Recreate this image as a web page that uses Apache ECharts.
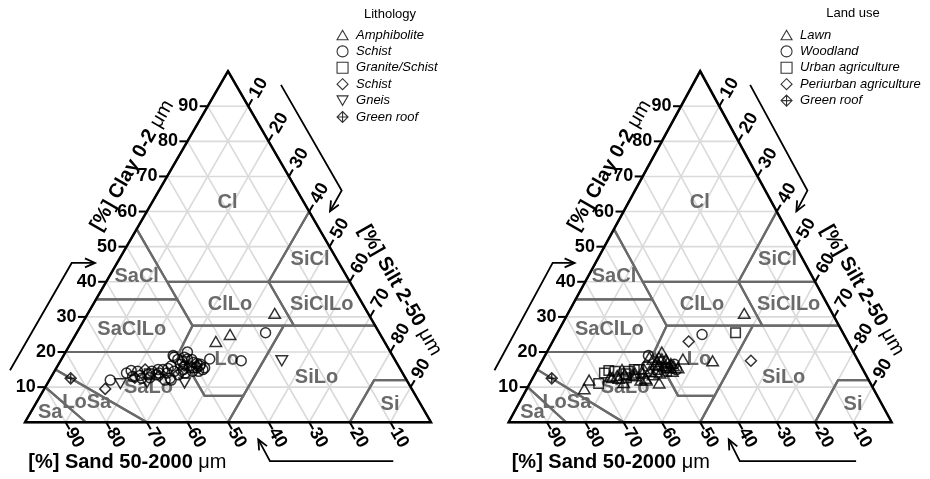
<!DOCTYPE html>
<html><head><meta charset="utf-8">
<script src="https://cdn.jsdelivr.net/npm/echarts@6/dist/echarts.min.js"></script>
<style>html,body{margin:0;padding:0;background:#fff}#c{width:930px;height:479px}</style>
</head><body><div id="c"></div>
<script>
// ================= DATA =================
// soil samples: texture fractions in percent
const sand = [23,37,41.5,28,45.5,38,28,82.5,75.5,73,71,50,54,68,67,65,65,63,61.5,61,60,58.5,58,58,56,56,55.5,53.5,53.5,53.5,51,51.5,51.5,50,50,50,48.5,48,54,51.5,59.5,58,62.5,51.2,66.6,60.3,54.3,49.7,64.4,55.1,66.5,65,62.9,59.7,57.1,52.6,50,49.3,48.7,52.7,53.4,62.9,48.9];
const silt = [46,38,35.5,46.5,36.5,44.5,54.5,5,15,15,18,30,27,18,20,20.5,22.5,23.5,24,25.5,26,26.5,28,29.5,28,29.5,31,30,31.5,32.5,31,32.5,34,33,34.5,35.5,35,36.5,27.5,30,28.5,30,23.7,33.3,20.7,26.5,31.3,34.2,24.4,33.7,18.8,21.7,22.1,25.3,27.6,30.1,32.1,34,36.3,31.1,28.7,24.4,35];
const clay = [31,25,23,25.5,18,17.5,17.5,12.5,9.5,12,11,20,19,14,13,14.5,12.5,13.5,14.5,13.5,14,15,14,12.5,16,14.5,13.5,16.5,15,14,18,16,14.5,17,15.5,14.5,16.5,15.5,18.5,18.5,12,12,13.8,15.5,12.7,13.2,14.4,16.1,11.3,11.2,14.7,13.3,15,15,15.3,17.3,17.9,16.7,15,16.2,17.9,12.7,16.1];
// category index of each sample (into lithologyCats / landUseCats)
const lithology = [0,0,0,1,1,1,4,5,3,1,4,1,1,1,1,1,1,1,1,1,1,1,1,1,1,1,1,1,1,1,1,1,1,1,1,1,1,1,1,1,1,1,2,2,3,3,3,3,4,4,1,1,3,1,1,1,1,1,1,3,1,1,1];
const landUse   = [0,1,3,2,0,0,3,4,0,0,2,0,1,2,0,2,0,0,2,0,0,2,0,0,1,0,0,0,2,0,0,0,2,0,0,0,1,0,0,0,0,0,2,2,0,0,0,3,0,0,2,0,0,2,0,0,0,0,1,0,0,2,0];
const lithologyCats = ['Amphibolite','Schist','Granite/Schist','Schist ','Gneis','Green roof'];
const landUseCats = ['Lawn','Woodland','Urban agriculture','Periurban agriculture','Green roof '];
const legendTitles = ['Lithology','Land use'];
const tickValues = [10,20,30,40,50,60,70,80,90];
const axisTitleClay = '[%] Clay 0-2 ';
const axisTitleSilt = '[%] Silt 2-50 ';
const axisTitleSand = '[%] Sand 50-2000 ';
const unitText = 'μm';
// USDA texture classes, vertices as [sand, silt, clay]
const classNames = ['Cl','SiCl','SaCl','SaClLo','ClLo','SiClLo','Lo','SiLo','Si','SaLo','LoSa','Sa'];
const classPolygons = [
  [[0,0,100],[0,40,60],[20,40,40],[45,15,40],[45,0,55]],
  [[0,40,60],[0,60,40],[20,40,40]],
  [[45,0,55],[65,0,35],[45,20,35],[45,15,40]],
  [[65,0,35],[80,0,20],[52,28,20],[45,27.5,27.5],[45,20,35]],
  [[45,20,35],[45,27.5,27.5],[20,52.5,27.5],[20,40,40],[45,15,40]],
  [[20,40,40],[0,60,40],[0,72.5,27.5],[20,52.5,27.5]],
  [[45,27.5,27.5],[52,28,20],[52,40.5,7.5],[42.5,50,7.5],[22.5,50,27.5]],
  [[22.5,50,27.5],[42.5,50,7.5],[50,50,0],[20,80,0],[8,80,12],[0,88,12],[0,72.5,27.5]],
  [[20,80,0],[0,100,0],[0,88,12],[8,80,12]],
  [[80,0,20],[85,0,15],[70,30,0],[50,50,0],[42.5,50,7.5],[52,40.5,7.5],[52,28,20]],
  [[85,0,15],[90,0,10],[85,15,0],[70,30,0]],
  [[90,0,10],[100,0,0],[85,15,0]]
];

// ================= LAYOUT =================
const K = 4.06;                       // px per percent
const ORIGINS = [[25,422.8],[510,422.8]];
const FONT = '"Liberation Sans", Arial, Helvetica, sans-serif';
// class label anchor (cartesian units of the triangle)
const classLabelXY = [[49.9,54.1],[70.2,40.1],[27.5,36.0],[26.3,22.9],[50.5,29.0],[73.1,29.0],[49.7,15.5],[71.8,11.0],[89.9,4.4],[30.4,8.5],[15.2,4.8],[6.2,2.5]];
const arrowPaths = [
  [[-3.69,12.83],[11.5,39.29],[17.24,39.29]],
  [[63.05,83.2],[78.0,57.14],[75.12,52.0]],
  [[90.71,-9.58],[60.34,-9.58],[57.46,-4.24]]
];
const titleClayXY = [26.4,63.3], titleSiltXY = [92.4,32.5], titleSandXY = [0.8,-9.9];

const S3 = Math.sqrt(3)/2;
function tern(sa, si, cl){ return [si + cl/2, cl*S3]; }

function seg(a,b,stroke,w){ return {type:'line', shape:{x1:a[0],y1:a[1],x2:b[0],y2:b[1]}, style:{stroke:stroke, lineWidth:w}}; }
function txt(x,y,text,opt){
  return {type:'text', x:x, y:y, rotation:opt.rot||0, style:Object.assign({text:text, fill:opt.fill||'#000', align:opt.align||'center', verticalAlign:'middle', font:opt.font}, opt.extra||{})};
}

function frameRender(params, api){
  const C = (s,si,c)=>api.coord(tern(s,si,c));
  const P = xy=>api.coord(xy);
  const ch = [];
  // light grid
  tickValues.forEach(v=>{
    ch.push(seg(C(100-v,0,v),C(0,100-v,v),'#dadada',1.6));
    ch.push(seg(C(v,100-v,0),C(v,0,100-v),'#dadada',1.6));
    ch.push(seg(C(100-v,v,0),C(0,v,100-v),'#dadada',1.6));
  });
  // class boundaries
  classPolygons.forEach(poly=>{
    ch.push({type:'polygon', shape:{points:poly.map(v=>C(v[0],v[1],v[2]))}, style:{fill:null, stroke:'#6a6a6a', lineWidth:2.2, lineJoin:'round'}});
  });
  // class labels
  classNames.forEach((n,i)=>{
    const p = P(classLabelXY[i]);
    ch.push(txt(p[0],p[1],n,{fill:'#6a6a6a', font:'bold 20px '+FONT}));
  });
  // triangle outline
  ch.push({type:'polygon', shape:{points:[C(100,0,0),C(0,100,0),C(0,0,100)]}, style:{fill:null, stroke:'#000', lineWidth:2.4, lineJoin:'miter'}});
  // ticks & tick labels
  const tl = 8;
  const c60 = 0.5, s60 = S3;
  tickValues.forEach(v=>{
    let e = C(100-v,0,v);
    ch.push(seg(e,[e[0]-tl,e[1]],'#000',2));
    ch.push(txt(e[0]-9.5,e[1],String(v),{align:'right', font:'bold 18px '+FONT}));
    e = C(0,v,100-v);
    ch.push(seg(e,[e[0]+tl*c60,e[1]-tl*s60],'#000',2));
    ch.push(txt(e[0]+21*c60,e[1]-21*s60,String(v),{rot:Math.PI/3, font:'bold 18px '+FONT}));
    e = C(v,100-v,0);
    ch.push(seg(e,[e[0]+tl*c60,e[1]+tl*s60],'#000',2));
    ch.push(txt(e[0]+18*c60,e[1]+18*s60,String(v),{rot:-Math.PI/3, font:'bold 18px '+FONT}));
  });
  // axis titles
  const rich = {b:{font:'bold 20px '+FONT, fill:'#000'}, n:{font:'20px '+FONT, fill:'#000'}};
  let p = P(titleClayXY);
  ch.push({type:'text', x:p[0], y:p[1], rotation:Math.PI/3, style:{text:'{b|'+axisTitleClay+'}{n|'+unitText+'}', rich:rich, align:'center', verticalAlign:'middle'}});
  p = P(titleSiltXY);
  ch.push({type:'text', x:p[0], y:p[1], rotation:-Math.PI/3, style:{text:'{b|'+axisTitleSilt+'}{n|'+unitText+'}', rich:rich, align:'center', verticalAlign:'middle'}});
  p = P(titleSandXY);
  ch.push({type:'text', x:p[0], y:p[1], style:{text:'{b|'+axisTitleSand+'}{n|'+unitText+'}', rich:rich, align:'left', verticalAlign:'middle'}});
  // arrows
  arrowPaths.forEach(path=>{
    const pts = path.map(P);
    ch.push({type:'polyline', shape:{points:pts}, style:{stroke:'#000', lineWidth:1.8, fill:null}});
    const a = pts[pts.length-2], b = pts[pts.length-1];
    const ang = Math.atan2(b[1]-a[1], b[0]-a[0]), L = 11, h = 0.42;
    ch.push({type:'polyline', shape:{points:[[b[0]-L*Math.cos(ang-h), b[1]-L*Math.sin(ang-h)], b, [b[0]-L*Math.cos(ang+h), b[1]-L*Math.sin(ang+h)]]}, style:{stroke:'#000', lineWidth:1.8, fill:null}});
  });
  return {type:'group', children:ch};
}

const SYM_UP = 'path://M1,0L2,1.732L0,1.732Z';
const SYM_DOWN = 'path://M0,0L2,0L1,1.732Z';
const SYM_XDIA = 'path://M1,0L2,1L1,2L0,1Z M1,0L1,2 M0,1L2,1';
const lithSymbols = [SYM_UP,'circle','rect','diamond',SYM_DOWN,SYM_XDIA];
const landSymbols = [SYM_UP,'circle','rect','diamond',SYM_XDIA];
function symSize(s){ return s===SYM_UP||s===SYM_DOWN ? 11.5 : (s==='rect' ? 9.5 : (s==='circle' ? 10 : 11)); }

const grids = [], xAxes = [], yAxes = [], series = [];
ORIGINS.forEach((o,pi)=>{
  grids.push({left:o[0]-6*K, top:o[1]-104*K, width:116*K, height:118*K, containLabel:false});
  xAxes.push({type:'value', gridIndex:pi, min:-6, max:110, show:false});
  yAxes.push({type:'value', gridIndex:pi, min:-14, max:104, show:false});
  series.push({type:'custom', name:'frame'+pi, xAxisIndex:pi, yAxisIndex:pi, coordinateSystem:'cartesian2d', data:[[0,0]], renderItem:frameRender, silent:true, z:1, clip:false});
});
function addCats(pi, cats, assign, symbols){
  cats.forEach((name,ci)=>{
    const data = [];
    for (let i=0;i<sand.length;i++) if (assign[i]===ci) data.push(tern(sand[i],silt[i],clay[i]));
    series.push({type:'scatter', name:name, xAxisIndex:pi, yAxisIndex:pi, data:data, symbol:symbols[ci], symbolSize:symSize(symbols[ci]), symbolKeepAspect:true,
      itemStyle:{color:'rgba(255,255,255,0)', borderColor:'#000', borderWidth:1.5}, z:5, silent:true});
  });
}
addCats(0, lithologyCats, lithology, lithSymbols);
addCats(1, landUseCats, landUse, landSymbols);

const legendBase = {orient:'vertical', top:23.5, itemWidth:11, itemHeight:11, itemGap:3.4, selectedMode:false,
  textStyle:{fontFamily:FONT, fontSize:13, fontStyle:'italic', color:'#000', padding:[0,0,0,3]},
  itemStyle:{borderWidth:1.1}};
const option = {
  animation:false,
  backgroundColor:'#fff',
  grid:grids, xAxis:xAxes, yAxis:yAxes,
  legend:[Object.assign({}, legendBase, {left:331.5, data:lithologyCats}), Object.assign({}, legendBase, {left:775.5, data:landUseCats})],
  graphic:[
    {type:'text', x:390, y:14, style:{text:legendTitles[0], font:'13px '+FONT, fill:'#000', align:'center', verticalAlign:'middle'}},
    {type:'text', x:853, y:13, style:{text:legendTitles[1], font:'13px '+FONT, fill:'#000', align:'center', verticalAlign:'middle'}}
  ],
  series:series
};
const chart = echarts.init(document.getElementById('c'), null, {renderer:'canvas'});
chart.setOption(option);
</script></body></html>
